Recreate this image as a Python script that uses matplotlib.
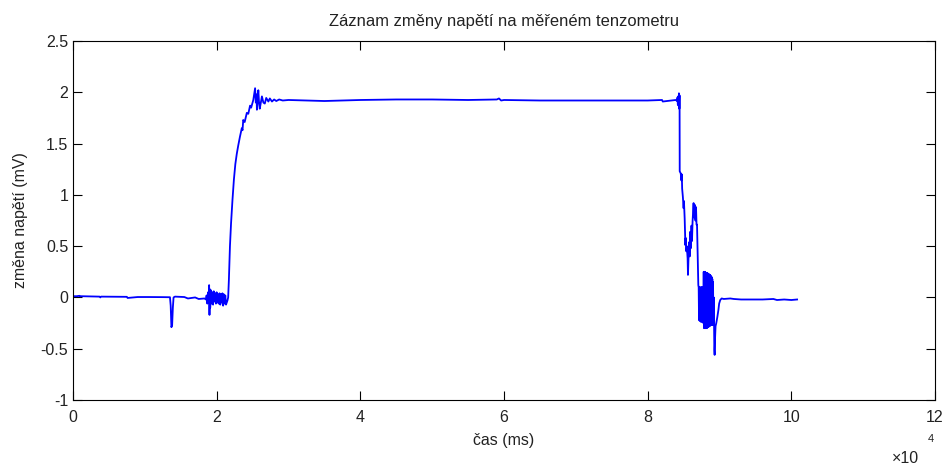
import numpy as np
import matplotlib
matplotlib.use('Agg')
import matplotlib.pyplot as plt
from matplotlib.ticker import FuncFormatter

# time (ms) and voltage change (mV) read from the strain gauge record
t_base = [0, 500, 900, 1000, 1100, 3700, 3800, 3900, 7500, 7600, 9000, 10500,
          12500, 13500, 13600, 13700, 13800, 13900, 14000, 14200, 15500, 16000,
          17000, 17500, 18300, 18500]
u_base = [0.012, 0.012, 0.016, 0.01, 0.012, 0.008, 0.0, 0.008, 0.006, -0.005, 0.004, 0.004,
          0.003, 0.002, -0.08, -0.29, -0.27, -0.1, 0.0, 0.008, 0.004, -0.01,
          0.0, -0.015, -0.01, -0.02]

# noise before the load step
t_noise1 = [18600, 18700, 18800, 18900, 18950, 19000, 19050, 19100, 19200, 19300,
            19400, 19500, 19600, 19700, 19800, 19900, 20000, 20100, 20200, 20300,
            20400, 20500, 20600, 20700, 20800, 20900, 21000, 21100, 21200, 21300,
            21400, 21500]
u_noise1 = [0.02, -0.06, 0.05, -0.04, 0.12, -0.17, 0.08, -0.1, 0.07, -0.06,
            0.05, -0.07, 0.06, -0.04, 0.04, -0.06, 0.05, -0.05, 0.03, -0.06,
            0.04, -0.07, 0.03, -0.05, 0.04, -0.08, 0.03, -0.06, 0.02, -0.07,
            -0.05, -0.03]

# loading ramp and settling
t_rise = [21600, 21700, 21850, 22000, 22200, 22400, 22600, 22800, 23000, 23250,
          23500, 23600, 23700, 23900, 24200, 24400, 24650, 24800, 25100, 25350,
          25450, 25550, 25600, 25800, 25900, 26000, 26300, 26500, 26700, 26900,
          27200, 27400, 27700, 28000, 28300, 28700, 29200, 30000]
u_rise = [0.0, 0.17, 0.5, 0.72, 0.95, 1.15, 1.30, 1.40, 1.48, 1.57,
          1.65, 1.63, 1.73, 1.71, 1.80, 1.79, 1.87, 1.85, 1.925, 2.04,
          1.90, 1.98, 1.83, 2.02, 1.90, 1.84, 1.96, 1.90, 1.89, 1.945,
          1.91, 1.94, 1.91, 1.93, 1.915, 1.93, 1.92, 1.925]

# loaded plateau
t_plat = [35000, 40000, 45000, 50000, 55000, 59000, 59300, 59600, 60000, 65000,
          70000, 75000, 80000, 82000, 82100, 83900]
u_plat = [1.915, 1.925, 1.93, 1.93, 1.925, 1.93, 1.94, 1.92, 1.925, 1.92,
          1.92, 1.92, 1.92, 1.925, 1.91, 1.925]

# unloading
t_drop = [84100, 84150, 84200, 84250, 84300, 84350, 84400, 84440, 84460, 84600,
          84700, 84750, 84800, 84900, 85000, 85050, 85150, 85250, 85300, 85380,
          85450, 85560, 85610, 85700, 85790, 85850, 85930, 86000, 86100, 86170,
          86250, 86390, 86450, 86530, 86600, 86650, 86730, 86800, 86870, 86950,
          87050]
u_drop = [1.915, 1.95, 1.88, 1.96, 1.87, 1.99, 1.84, 1.97, 1.23, 1.21,
          1.14, 1.20, 1.06, 0.98, 0.87, 0.94, 0.77, 0.51, 0.58, 0.45,
          0.50, 0.38, 0.22, 0.42, 0.54, 0.40, 0.64, 0.48, 0.70, 0.55,
          0.74, 0.92, 0.78, 0.80, 0.90, 0.75, 0.88, 0.71, 0.71, 0.45,
          0.12]

# oscillation after unloading
t_noise2 = [87100, 87150, 87200, 87250, 87300, 87350, 87400, 87450, 87500, 87550,
            87600, 87650, 87700, 87750, 87800, 87850, 87900, 87950, 88000, 88050,
            88100, 88150, 88200, 88250, 88300, 88350, 88400, 88450, 88500, 88550,
            88600, 88650, 88700, 88750, 88800, 88850, 88900, 88950, 89000, 89050,
            89100, 89150, 89200]
u_noise2 = [0.10, -0.22, 0.10, -0.23, 0.09, -0.22, 0.10, -0.24, 0.10, -0.23,
            0.09, -0.22, 0.10, -0.25, 0.25, -0.30, 0.25, -0.29, 0.25, -0.30,
            0.24, -0.29, 0.24, -0.30, 0.24, -0.28, 0.23, -0.29, 0.23, -0.28,
            0.22, -0.28, 0.22, -0.27, 0.21, -0.27, 0.20, -0.26, 0.18, -0.27,
            0.15, -0.26, 0.0]

# return to zero
t_tail = [89280, 89320, 89380, 89450, 89550, 89700, 89850, 89950, 90100, 90300,
          90600, 91500, 92000, 93000, 96000, 97500, 98000, 99000, 100000, 100800]
u_tail = [-0.51, -0.56, -0.40, -0.28, -0.25, -0.19, -0.12, -0.06, -0.025, -0.01,
          -0.015, -0.01, -0.015, -0.02, -0.02, -0.015, -0.025, -0.02, -0.025, -0.02]

t = np.concatenate([t_base, t_noise1, t_rise, t_plat, t_drop, t_noise2, t_tail])
u = np.concatenate([u_base, u_noise1, u_rise, u_plat, u_drop, u_noise2, u_tail])

plt.rcParams['font.family'] = ['Liberation Sans', 'DejaVu Sans']
plt.rcParams['font.size'] = 11.5
plt.rcParams['path.simplify'] = False
plt.rcParams['text.color'] = '#222222'
plt.rcParams['axes.labelcolor'] = '#222222'
plt.rcParams['xtick.labelcolor'] = '#222222'
plt.rcParams['ytick.labelcolor'] = '#222222'

fig = plt.figure(figsize=(9.48, 4.66), dpi=100)
ax = fig.add_axes([0.077, 0.1416, 0.9093, 0.7704])

ax.plot(t, u, color='#0000ff', lw=1.3, snap=False)

ax.set_xlim(0, 120000)
ax.set_ylim(-1, 2.5)
ax.set_xticks(np.arange(0, 120001, 20000))
ax.set_yticks(np.arange(-1, 2.51, 0.5))
ax.xaxis.set_major_formatter(FuncFormatter(lambda v, p: '%g' % (v / 1e4)))
ax.yaxis.set_major_formatter(FuncFormatter(lambda v, p: '%g' % v))
ax.tick_params(direction='in', length=6.5, top=True, right=True, width=0.8)
ax.tick_params(axis='x', pad=7)
for s in ax.spines.values():
    s.set_linewidth(0.8)

ax.set_title('Záznam změny napětí na měřeném tenzometru', pad=11, fontsize=11.9)
ax.set_xlabel('čas (ms)', labelpad=6)
ax.set_ylabel('změna napětí (mV)', labelpad=9)

fig.text(0.941, 0.017, '×10', ha='left', va='center')
fig.text(0.979, 0.058, '4', ha='left', va='center', fontsize=8)

plt.savefig('out.png', dpi=100)
